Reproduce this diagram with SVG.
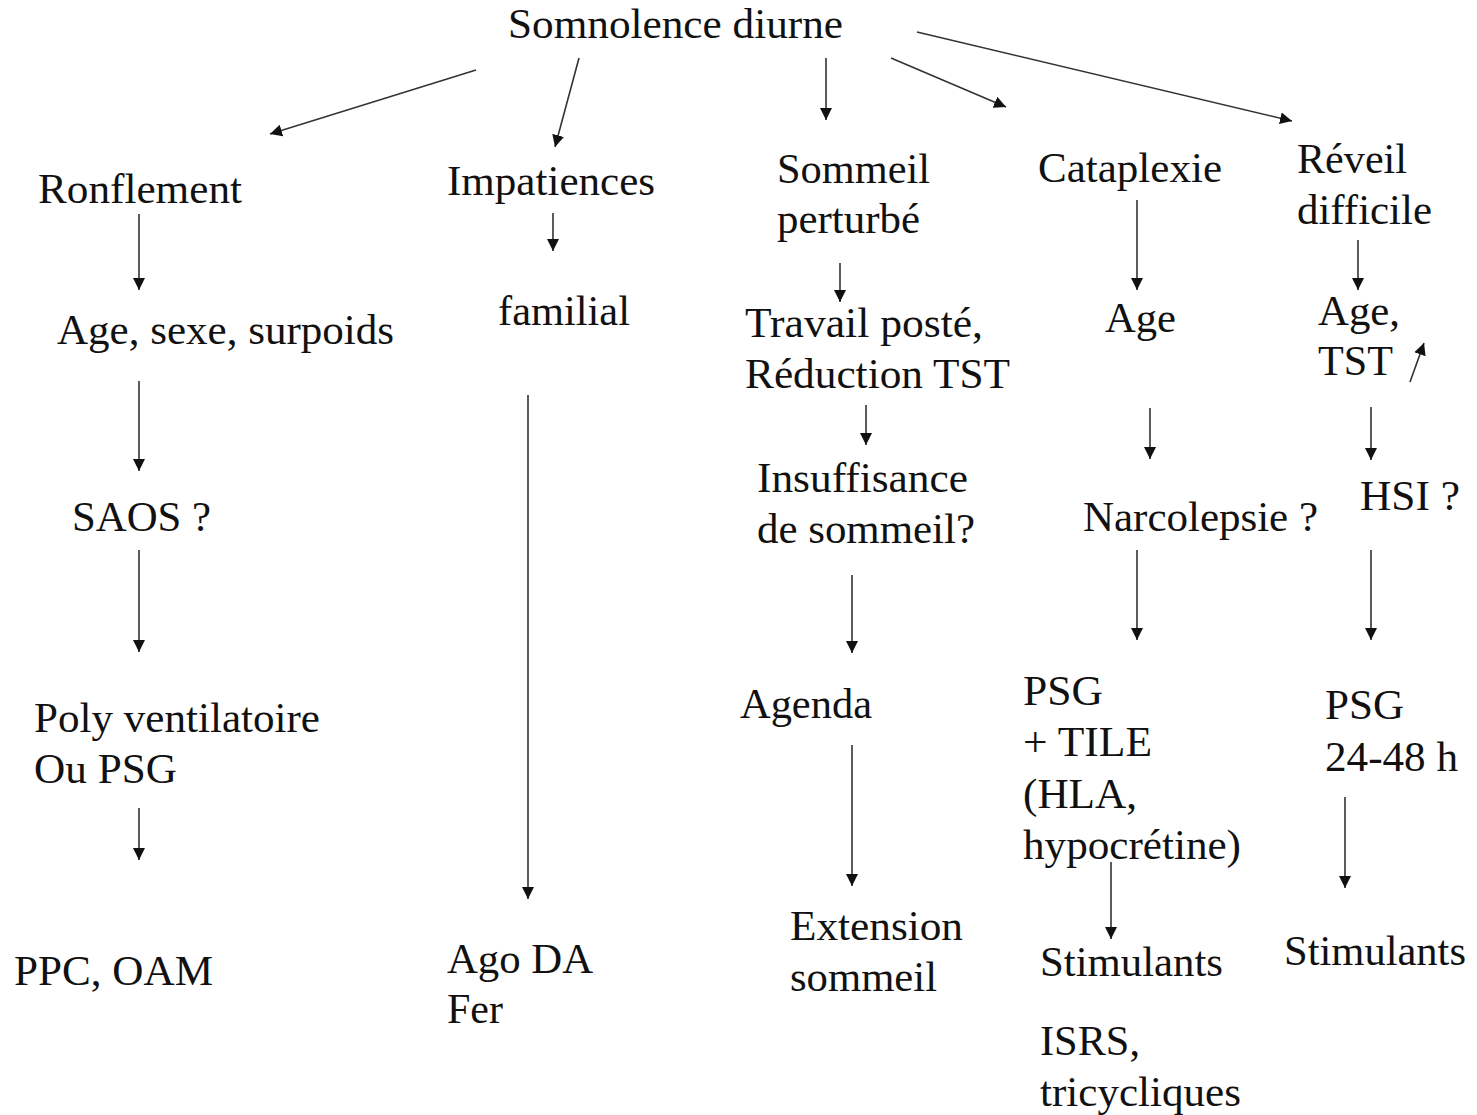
<svg xmlns="http://www.w3.org/2000/svg" width="1477" height="1115" viewBox="0 0 1477 1115">
<style>
text{font-family:"Liberation Serif","Times New Roman",serif;font-size:42px;fill:#111}
.c line{stroke:#333;stroke-width:1.6;fill:none}
</style>
<defs>
<marker id="ah" markerUnits="userSpaceOnUse" markerWidth="12" markerHeight="14" viewBox="0 0 12 14" refX="12" refY="7" orient="auto">
<path d="M0,1 L12,7 L0,13 Z" fill="#111"/>
</marker>
</defs>
<rect width="1477" height="1115" fill="#fff"/>
<g class="c" id="connectors">
<line x1="476" y1="70" x2="270" y2="134" marker-end="url(#ah)"/>
<line x1="579" y1="58" x2="555" y2="147" marker-end="url(#ah)"/>
<line x1="826" y1="58" x2="826" y2="120" marker-end="url(#ah)"/>
<line x1="891" y1="58" x2="1006" y2="107" marker-end="url(#ah)"/>
<line x1="917" y1="32" x2="1292" y2="121" marker-end="url(#ah)"/>
<line x1="139" y1="214" x2="139" y2="290" marker-end="url(#ah)"/>
<line x1="139" y1="381" x2="139" y2="471" marker-end="url(#ah)"/>
<line x1="139" y1="550" x2="139" y2="652" marker-end="url(#ah)"/>
<line x1="139" y1="808" x2="139" y2="860" marker-end="url(#ah)"/>
<line x1="553" y1="213" x2="553" y2="251" marker-end="url(#ah)"/>
<line x1="528" y1="395" x2="528" y2="899" marker-end="url(#ah)"/>
<line x1="840" y1="263" x2="840" y2="302" marker-end="url(#ah)"/>
<line x1="866" y1="405" x2="866" y2="445" marker-end="url(#ah)"/>
<line x1="852" y1="575" x2="852" y2="653" marker-end="url(#ah)"/>
<line x1="852" y1="745" x2="852" y2="886" marker-end="url(#ah)"/>
<line x1="1137" y1="200" x2="1137" y2="290" marker-end="url(#ah)"/>
<line x1="1150" y1="408" x2="1150" y2="459" marker-end="url(#ah)"/>
<line x1="1137" y1="550" x2="1137" y2="640" marker-end="url(#ah)"/>
<line x1="1111" y1="862" x2="1111" y2="939" marker-end="url(#ah)"/>
<line x1="1358" y1="240" x2="1358" y2="290" marker-end="url(#ah)"/>
<line x1="1410" y1="382" x2="1424" y2="343" marker-end="url(#ah)"/>
<line x1="1371" y1="407" x2="1371" y2="460" marker-end="url(#ah)"/>
<line x1="1371" y1="550" x2="1371" y2="640" marker-end="url(#ah)"/>
<line x1="1345" y1="797" x2="1345" y2="888" marker-end="url(#ah)"/>
</g>
<g id="n-somnolence"><text x="508" y="38" textLength="335" lengthAdjust="spacingAndGlyphs">Somnolence diurne</text></g>
<g id="n-ronflement"><text x="38" y="203" textLength="204" lengthAdjust="spacingAndGlyphs">Ronflement</text></g>
<g id="n-age-sexe"><text x="57" y="344" textLength="337" lengthAdjust="spacingAndGlyphs">Age, sexe, surpoids</text></g>
<g id="n-saos"><text x="72" y="531" textLength="139" lengthAdjust="spacingAndGlyphs">SAOS ?</text></g>
<g id="n-poly"><text x="34" y="732" textLength="286" lengthAdjust="spacingAndGlyphs">Poly ventilatoire</text><text x="34" y="783" textLength="143" lengthAdjust="spacingAndGlyphs">Ou PSG</text></g>
<g id="n-ppc"><text x="14" y="985" textLength="199" lengthAdjust="spacingAndGlyphs">PPC, OAM</text></g>
<g id="n-impatiences"><text x="447" y="195" textLength="208" lengthAdjust="spacingAndGlyphs">Impatiences</text></g>
<g id="n-familial"><text x="498" y="325" textLength="132" lengthAdjust="spacingAndGlyphs">familial</text></g>
<g id="n-ago"><text x="447" y="973" textLength="146" lengthAdjust="spacingAndGlyphs">Ago DA</text><text x="447" y="1023" textLength="56" lengthAdjust="spacingAndGlyphs">Fer</text></g>
<g id="n-sommeil"><text x="777" y="183" textLength="153" lengthAdjust="spacingAndGlyphs">Sommeil</text><text x="777" y="233" textLength="143" lengthAdjust="spacingAndGlyphs">perturbé</text></g>
<g id="n-travail"><text x="745" y="337" textLength="238" lengthAdjust="spacingAndGlyphs">Travail posté,</text><text x="745" y="388" textLength="265" lengthAdjust="spacingAndGlyphs">Réduction TST</text></g>
<g id="n-insuffisance"><text x="757" y="492" textLength="211" lengthAdjust="spacingAndGlyphs">Insuffisance</text><text x="757" y="543" textLength="218" lengthAdjust="spacingAndGlyphs">de sommeil?</text></g>
<g id="n-agenda"><text x="740" y="718" textLength="132" lengthAdjust="spacingAndGlyphs">Agenda</text></g>
<g id="n-extension"><text x="790" y="940" textLength="173" lengthAdjust="spacingAndGlyphs">Extension</text><text x="790" y="991" textLength="147" lengthAdjust="spacingAndGlyphs">sommeil</text></g>
<g id="n-cataplexie"><text x="1038" y="182" textLength="184" lengthAdjust="spacingAndGlyphs">Cataplexie</text></g>
<g id="n-age-cat"><text x="1105" y="332" textLength="71" lengthAdjust="spacingAndGlyphs">Age</text></g>
<g id="n-narcolepsie"><text x="1083" y="531" textLength="235" lengthAdjust="spacingAndGlyphs">Narcolepsie ?</text></g>
<g id="n-psg-tile"><text x="1023" y="705" textLength="80" lengthAdjust="spacingAndGlyphs">PSG</text><text x="1023" y="756" textLength="129" lengthAdjust="spacingAndGlyphs">+ TILE</text><text x="1023" y="808" textLength="114" lengthAdjust="spacingAndGlyphs">(HLA,</text><text x="1023" y="859" textLength="218" lengthAdjust="spacingAndGlyphs">hypocrétine)</text></g>
<g id="n-stim1"><text x="1040" y="976" textLength="183" lengthAdjust="spacingAndGlyphs">Stimulants</text></g>
<g id="n-isrs"><text x="1040" y="1055" textLength="100" lengthAdjust="spacingAndGlyphs">ISRS,</text><text x="1040" y="1106" textLength="201" lengthAdjust="spacingAndGlyphs">tricycliques</text></g>
<g id="n-reveil"><text x="1297" y="173" textLength="110" lengthAdjust="spacingAndGlyphs">Réveil</text><text x="1297" y="224" textLength="135" lengthAdjust="spacingAndGlyphs">difficile</text></g>
<g id="n-age-tst"><text x="1318" y="325" textLength="82" lengthAdjust="spacingAndGlyphs">Age,</text><text x="1318" y="375" textLength="75" lengthAdjust="spacingAndGlyphs">TST</text></g>
<g id="n-hsi"><text x="1360" y="510" textLength="100" lengthAdjust="spacingAndGlyphs">HSI ?</text></g>
<g id="n-psg-24"><text x="1325" y="719" textLength="79" lengthAdjust="spacingAndGlyphs">PSG</text><text x="1325" y="771" textLength="133" lengthAdjust="spacingAndGlyphs">24-48 h</text></g>
<g id="n-stim2"><text x="1284" y="965" textLength="182" lengthAdjust="spacingAndGlyphs">Stimulants</text></g>
</svg>
